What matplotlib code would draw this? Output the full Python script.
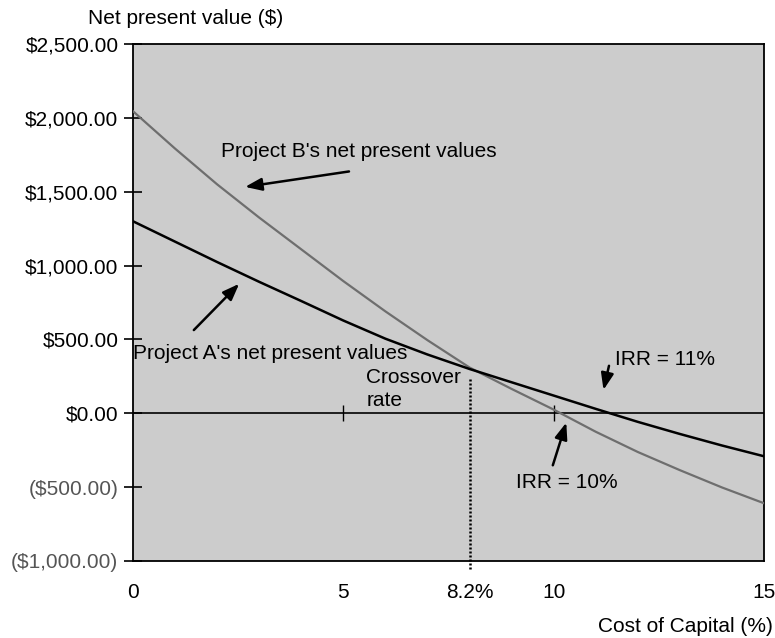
import numpy as np
import matplotlib.pyplot as plt

# data
rate = [0, 1, 2, 3, 4, 5, 6, 7, 8, 9, 10, 11, 12, 13, 14, 15]
npv_a = [1300, 1162, 1024, 890, 760, 628, 505, 398, 300, 210, 120, 30, -58, -140, -218, -291]
npv_b = [2045, 1792, 1550, 1325, 1110, 895, 690, 495, 310, 165, 25, -125, -262, -385, -502, -609]
yticks = [2500, 2000, 1500, 1000, 500, 0, -500, -1000]
ylabels = ["$2,500.00", "$2,000.00", "$1,500.00", "$1,000.00", "$500.00", "$0.00",
           "($500.00)", "($1,000.00)"]
crossover = 8.02
crossover_npv = 290
xticks = [0, 5, crossover, 10, 15]
xlabels = ["0", "5", "8.2%", "10", "15"]

plt.rcParams['font.family'] = ['Liberation Sans', 'DejaVu Sans']
fs = 15

fig = plt.figure(figsize=(7.75, 6.38), dpi=100)
ax = fig.add_axes([0.1716, 0.1207, 0.8142, 0.8103])
ax.set_facecolor('#cccccc')

ax.plot(rate, npv_b, color='#6e6e6e', lw=1.6, zorder=3)
ax.plot(rate, npv_a, color='black', lw=1.8, zorder=4)
ax.axhline(0, color='black', lw=1.2, zorder=2)
ax.plot([5, 10], [0, 0], ls='none', marker='|', ms=12, mew=1.0, color='black', zorder=2)

ax.set_xlim(0, 15)
ax.set_ylim(-1000, 2500)
ax.set_yticks(yticks)
ax.set_yticklabels(ylabels, fontsize=fs)
for lab, v in zip(ax.get_yticklabels(), yticks):
    if v < 0:
        lab.set_color('#555555')
ax.set_xticks(xticks)
ax.set_xticklabels(xlabels, fontsize=fs)
ax.tick_params(axis='y', direction='inout', length=13, width=1.2, pad=4)
ax.tick_params(axis='x', length=0, pad=16)
for s in ax.spines.values():
    s.set_linewidth(1.3)

# crossover dotted line
ax.plot([crossover, crossover], [crossover_npv - 55, -1060], ls=(0, (0.8, 0.8)), color='black',
        lw=1.8, clip_on=False, zorder=2)

arrow = dict(arrowstyle='-|>,head_length=1.0,head_width=0.38', color='black', lw=1.8)
ax.text(2.1, 1770, "Project B's net present values", fontsize=fs, va='center')
ax.annotate("", xy=(2.6, 1530), xytext=(5.2, 1640), arrowprops=arrow)
ax.text(0.0, 405, "Project A's net present values", fontsize=fs, va='center')
ax.annotate("", xy=(2.57, 890), xytext=(1.4, 550), arrowprops=arrow)
ax.text(5.55, 245, "Crossover", fontsize=fs, va='center')
ax.text(5.55, 85, "rate", fontsize=fs, va='center')
ax.text(11.45, 365, "IRR = 11%", fontsize=fs, va='center')
ax.annotate("", xy=(11.17, 140), xytext=(11.33, 340), arrowprops=arrow)
ax.text(9.1, -470, "IRR = 10%", fontsize=fs, va='center')
ax.annotate("", xy=(10.32, -45), xytext=(9.96, -370), arrowprops=arrow)

fig.text(88 / 775, 1 - 19 / 638, "Net present value ($)", fontsize=fs, va='center', ha='left')
fig.text(773 / 775, 1 - 627 / 638, "Cost of Capital (%)", fontsize=fs, va='center', ha='right')

plt.savefig("out.png", dpi=100)
